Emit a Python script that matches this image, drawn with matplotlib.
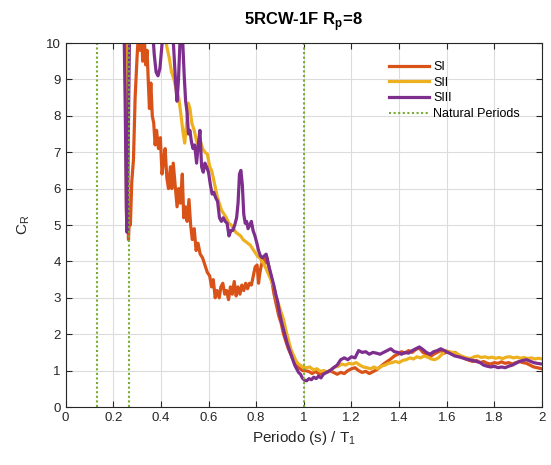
import numpy as np
import matplotlib.pyplot as plt

plt.rcParams['font.family'] = ['Liberation Sans', 'DejaVu Sans']

# SI spectrum
x_si = [0.250, 0.255, 0.260, 0.264, 0.268, 0.272, 0.278, 0.285, 0.292, 0.300,
        0.306, 0.312, 0.318, 0.324, 0.330, 0.336, 0.342, 0.348, 0.352, 0.358,
        0.364, 0.370, 0.376, 0.382, 0.390, 0.398, 0.405, 0.412, 0.418, 0.425,
        0.432, 0.440, 0.446, 0.452, 0.460, 0.468, 0.475, 0.482, 0.490, 0.496,
        0.503, 0.510, 0.518, 0.525, 0.532, 0.540, 0.548, 0.556, 0.565, 0.575,
        0.585, 0.595, 0.605, 0.613, 0.620, 0.628, 0.636, 0.645, 0.652, 0.660,
        0.668, 0.676, 0.684, 0.692, 0.700, 0.708, 0.716, 0.724, 0.732, 0.740,
        0.748, 0.756, 0.764, 0.772, 0.780, 0.788, 0.796, 0.804, 0.810, 0.816,
        0.822, 0.830, 0.838, 0.846, 0.855, 0.865, 0.875, 0.885, 0.895, 0.905,
        0.915, 0.925, 0.935, 0.945, 0.955, 0.965, 0.975, 0.985, 0.995, 1.005,
        1.020, 1.035, 1.050, 1.065, 1.080, 1.095, 1.110, 1.125, 1.140, 1.155,
        1.170, 1.185, 1.200, 1.215, 1.230, 1.245, 1.260, 1.275, 1.290, 1.305,
        1.320, 1.335, 1.350, 1.365, 1.380, 1.395, 1.410, 1.425, 1.440, 1.455,
        1.470, 1.485, 1.500, 1.515, 1.530, 1.545, 1.560, 1.575, 1.590, 1.605,
        1.620, 1.635, 1.650, 1.665, 1.680, 1.695, 1.710, 1.725, 1.740, 1.755,
        1.770, 1.785, 1.800, 1.815, 1.830, 1.845, 1.860, 1.875, 1.890, 1.905,
        1.920, 1.935, 1.950, 1.965, 1.980, 2.000]
y_si = [11.0, 8.5, 6.0, 4.6, 5.2, 5.0, 6.2, 6.8, 8.5, 9.6,
        10.3, 9.8, 10.4, 9.5, 10.2, 9.4, 9.8, 8.8, 8.2, 8.9,
        8.0, 7.8, 7.2, 7.6, 7.1, 7.4, 6.4, 6.8, 7.1, 6.3,
        6.0, 6.6, 6.0, 6.7, 6.1, 5.5, 6.0, 5.6, 6.4, 5.2,
        5.5, 5.1, 5.7, 5.0, 4.6, 4.9, 4.3, 4.5, 4.2, 4.1,
        3.9, 3.7, 3.6, 3.3, 3.5, 3.0, 3.2, 3.0, 3.3, 3.4,
        3.1, 3.2, 2.95, 3.3, 3.1, 3.45, 3.05, 3.3, 3.1, 3.35,
        3.2, 3.4, 3.25, 3.4, 3.35, 3.6, 3.85, 3.9, 3.4, 3.7,
        3.9, 4.1, 3.95, 4.1, 3.8, 3.5, 3.1, 2.8, 2.5, 2.3,
        2.0, 1.8, 1.6, 1.45, 1.3, 1.2, 1.1, 1.05, 1.0, 1.0,
        0.98, 0.92, 0.98, 0.9, 0.98, 0.95, 1.0, 0.95, 0.9, 0.95,
        0.92, 1.0, 1.05, 1.08, 1.0, 0.95, 0.98, 0.92, 0.97, 1.02,
        1.1, 1.18, 1.25, 1.32, 1.4, 1.45, 1.52, 1.48, 1.55, 1.5,
        1.58, 1.62, 1.5, 1.45, 1.38, 1.45, 1.5, 1.55, 1.48, 1.52,
        1.48, 1.5, 1.42, 1.38, 1.32, 1.28, 1.25, 1.28, 1.22, 1.25,
        1.2, 1.18, 1.22, 1.2, 1.24, 1.2, 1.22, 1.18, 1.22, 1.25,
        1.22, 1.2, 1.15, 1.1, 1.08, 1.05]

# SII spectrum
x_sii = [0.248, 0.252, 0.256, 0.260, 0.264, 0.268, 0.290, 0.330, 0.370, 0.400,
         0.415, 0.425, 0.435, 0.445, 0.455, 0.465, 0.475, 0.485, 0.492, 0.500,
         0.508, 0.515, 0.522, 0.530, 0.540, 0.550, 0.558, 0.566, 0.575, 0.585,
         0.595, 0.605, 0.613, 0.620, 0.628, 0.636, 0.645, 0.655, 0.665, 0.675,
         0.685, 0.695, 0.705, 0.715, 0.725, 0.735, 0.745, 0.755, 0.765, 0.775,
         0.785, 0.795, 0.805, 0.815, 0.825, 0.835, 0.845, 0.855, 0.865, 0.875,
         0.885, 0.895, 0.905, 0.915, 0.925, 0.935, 0.945, 0.955, 0.965, 0.975,
         0.985, 0.995, 1.010, 1.025, 1.040, 1.055, 1.070, 1.085, 1.100, 1.115,
         1.130, 1.145, 1.160, 1.175, 1.190, 1.205, 1.220, 1.235, 1.250, 1.265,
         1.280, 1.295, 1.310, 1.325, 1.340, 1.355, 1.370, 1.385, 1.400, 1.415,
         1.430, 1.445, 1.460, 1.475, 1.490, 1.505, 1.520, 1.535, 1.550, 1.565,
         1.580, 1.595, 1.610, 1.625, 1.640, 1.655, 1.670, 1.685, 1.700, 1.715,
         1.730, 1.745, 1.760, 1.775, 1.790, 1.805, 1.820, 1.835, 1.850, 1.865,
         1.880, 1.895, 1.910, 1.925, 1.940, 1.955, 1.970, 1.985, 2.000]
y_sii = [11.0, 8.0, 5.2, 7.0, 9.5, 11.0, 10.8, 11.5, 11.0, 10.6,
         10.3, 9.9, 9.6, 9.2, 9.0, 8.7, 8.5, 8.0, 7.6, 7.25,
         7.8, 8.35, 8.2, 7.8, 7.6, 7.3, 7.2, 7.3, 7.1, 7.0,
         6.95, 6.6, 6.5, 6.3, 6.05, 5.8, 5.6, 5.4, 5.3, 5.2,
         5.05, 5.0, 4.9, 4.8, 4.75, 4.7, 4.6, 4.55, 4.5, 4.45,
         4.35, 4.25, 4.15, 4.1, 4.0, 3.9, 3.75, 3.6, 3.45, 3.3,
         3.0, 2.8, 2.6, 2.4, 2.1, 1.85, 1.6, 1.45, 1.3, 1.2,
         1.15, 1.1, 1.08, 1.1, 1.02, 1.05, 0.98, 1.0, 0.96, 1.02,
         1.1, 1.12, 1.18, 1.15, 1.2, 1.18, 1.22, 1.15, 1.1, 1.08,
         1.05, 1.1, 1.05, 1.12, 1.15, 1.2, 1.22, 1.25, 1.22, 1.28,
         1.3, 1.35, 1.32, 1.38, 1.35, 1.4, 1.37, 1.32, 1.3, 1.35,
         1.45, 1.55, 1.52, 1.5, 1.48, 1.42, 1.38, 1.35, 1.33, 1.38,
         1.4, 1.36, 1.38, 1.35, 1.37, 1.34, 1.36, 1.33, 1.37, 1.38,
         1.35, 1.37, 1.34, 1.36, 1.33, 1.35, 1.32, 1.34, 1.32]

# SIII spectrum
x_siii = [0.244, 0.250, 0.255, 0.258, 0.262, 0.266, 0.270, 0.300, 0.340, 0.365,
          0.372, 0.380, 0.388, 0.396, 0.404, 0.412, 0.430, 0.450, 0.456, 0.462,
          0.468, 0.474, 0.480, 0.486, 0.492, 0.498, 0.504, 0.510, 0.516, 0.522,
          0.528, 0.535, 0.542, 0.550, 0.557, 0.564, 0.571, 0.578, 0.585, 0.592,
          0.600, 0.608, 0.615, 0.622, 0.630, 0.638, 0.646, 0.654, 0.662, 0.670,
          0.678, 0.686, 0.694, 0.702, 0.710, 0.718, 0.724, 0.730, 0.736, 0.742,
          0.748, 0.754, 0.760, 0.766, 0.773, 0.780, 0.787, 0.795, 0.803, 0.810,
          0.818, 0.826, 0.834, 0.842, 0.850, 0.858, 0.866, 0.874, 0.882, 0.890,
          0.898, 0.906, 0.914, 0.922, 0.930, 0.938, 0.946, 0.954, 0.962, 0.970,
          0.978, 0.986, 0.994, 1.002, 1.012, 1.022, 1.032, 1.042, 1.052, 1.062,
          1.072, 1.082, 1.095, 1.110, 1.125, 1.140, 1.155, 1.170, 1.185, 1.200,
          1.215, 1.230, 1.245, 1.260, 1.275, 1.290, 1.305, 1.320, 1.335, 1.350,
          1.365, 1.380, 1.395, 1.410, 1.425, 1.440, 1.455, 1.470, 1.485, 1.500,
          1.515, 1.530, 1.545, 1.560, 1.575, 1.590, 1.605, 1.620, 1.635, 1.650,
          1.665, 1.680, 1.695, 1.710, 1.725, 1.740, 1.755, 1.770, 1.785, 1.800,
          1.815, 1.830, 1.845, 1.860, 1.875, 1.890, 1.905, 1.920, 1.935, 1.950,
          1.965, 1.980, 2.000]
y_siii = [11.0, 8.5, 5.5, 4.8, 6.5, 9.0, 11.0, 12.0, 11.5, 10.4,
          9.7, 9.2, 9.1, 9.3, 9.9, 10.5, 11.0, 10.3, 9.6, 8.9,
          8.4, 9.0, 10.0, 10.3, 10.0, 9.1, 8.4, 8.1, 7.5, 7.6,
          7.3, 7.1, 7.2, 6.7, 7.2, 7.6, 6.6, 6.45, 6.7, 6.6,
          6.45, 6.1, 5.85, 5.9, 5.75, 5.65, 5.2, 5.1, 5.2, 5.1,
          5.05, 4.7, 4.85, 4.85, 5.0, 5.2, 5.6, 6.4, 6.5, 6.1,
          5.3, 5.05, 5.1, 4.9, 5.0, 5.1, 4.85, 4.7, 4.5, 4.3,
          4.15, 4.1, 4.15, 4.2, 3.95, 3.75, 3.55, 3.35, 3.1, 2.9,
          2.6, 2.35, 2.15, 1.95, 1.75, 1.6, 1.45, 1.3, 1.15, 1.05,
          0.95, 0.9, 0.8, 0.74, 0.72, 0.78, 0.75, 0.82, 0.78, 0.85,
          0.8, 0.9, 0.95, 1.0, 1.08, 1.15, 1.3, 1.35, 1.3, 1.38,
          1.35, 1.55, 1.5, 1.52, 1.45, 1.5, 1.48, 1.45, 1.5, 1.55,
          1.6, 1.52, 1.5, 1.45, 1.5, 1.48, 1.55, 1.6, 1.65, 1.58,
          1.5, 1.45, 1.52, 1.55, 1.6, 1.55, 1.5, 1.45, 1.4, 1.38,
          1.35, 1.32, 1.3, 1.28, 1.25, 1.22, 1.15, 1.12, 1.1, 1.12,
          1.08, 1.1, 1.08, 1.12, 1.15, 1.2, 1.25, 1.28, 1.3, 1.26,
          1.22, 1.2, 1.18]

natural_periods = [0.134, 0.266, 1.0]

fig = plt.figure(figsize=(5.51, 4.65), dpi=100)
ax = fig.add_axes([0.119, 0.1247, 0.8647, 0.7828])

ax.plot(x_si, y_si, color='#D95319', lw=2.3, label='SI')
ax.plot(x_sii, y_sii, color='#EDB120', lw=2.3, label='SII')
ax.plot(x_siii, y_siii, color='#7E2F8E', lw=2.3, label='SIII')
for i, t in enumerate(natural_periods):
    ax.axvline(t, color='#77AC30', lw=1.5, ls=(0, (1, 1.2)),
               label='Natural Periods' if i == 0 else None)

ax.set_xlim(0, 2)
ax.set_ylim(0, 10)
ax.set_xticks(np.arange(0, 2.01, 0.2))
ax.set_xticklabels(['0', '0.2', '0.4', '0.6', '0.8', '1', '1.2', '1.4', '1.6', '1.8', '2'])
ax.set_yticks(range(0, 11))
ax.grid(True, color='#dcdcdc', lw=0.8)
ax.set_axisbelow(True)
ax.tick_params(direction='in', top=True, right=True, labelsize=9.5,
               colors='#262626', length=4)
for s in ax.spines.values():
    s.set_color('#262626')
    s.set_linewidth(0.8)

ax.set_title('5RCW-1F R$_\\mathregular{p}$=8', fontsize=12, fontweight='bold', pad=13)
ax.set_xlabel('Periodo (s) / T$_\\mathregular{1}$', fontsize=11, color='#262626')
ax.set_ylabel('C$_\\mathregular{R}$', fontsize=11, color='#262626', labelpad=10)

ax.legend(loc='upper right', frameon=False, fontsize=9, handlelength=3.2,
          handletextpad=0.3, labelspacing=0.3, borderaxespad=0.6,
          bbox_to_anchor=(0.98, 0.985))

fig.savefig('out.png', dpi=100, facecolor='white')
